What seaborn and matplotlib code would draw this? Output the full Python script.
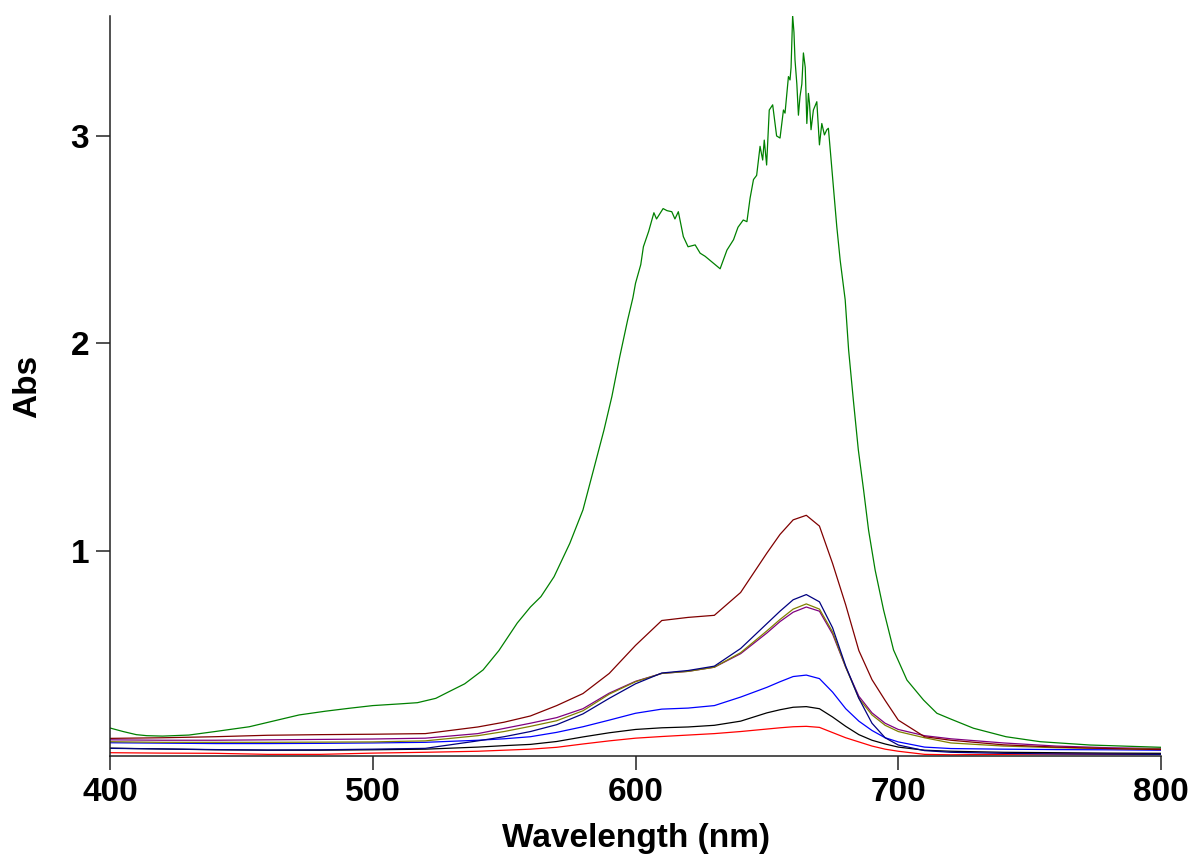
import numpy as np
import pandas as pd
import matplotlib
matplotlib.use("Agg")
import matplotlib.pyplot as plt
import seaborn as sns

# Wavelength grid (nm) shared by the smooth spectra
wavelength = [400, 420, 440, 460, 480, 500, 520, 540, 550, 560, 570, 580, 590,
              600, 610, 620, 630, 640, 650, 655, 660, 665, 670, 675, 680, 685,
              690, 695, 700, 710, 720, 740, 760, 780, 800]

abs_maroon = [0.097, 0.100, 0.105, 0.112, 0.115, 0.117, 0.120, 0.152, 0.175, 0.205,
              0.255, 0.313, 0.410, 0.545, 0.665, 0.680, 0.690, 0.800, 0.990, 1.080,
              1.150, 1.172, 1.120, 0.940, 0.740, 0.520, 0.380, 0.280, 0.185, 0.105,
              0.088, 0.066, 0.055, 0.048, 0.043]
abs_navy = [0.049, 0.046, 0.043, 0.041, 0.042, 0.045, 0.049, 0.085, 0.105, 0.130,
            0.163, 0.215, 0.290, 0.360, 0.412, 0.424, 0.445, 0.530, 0.650, 0.710,
            0.765, 0.790, 0.755, 0.630, 0.445, 0.290, 0.170, 0.100, 0.065, 0.038,
            0.030, 0.025, 0.022, 0.021, 0.020]
abs_olive = [0.081, 0.078, 0.078, 0.078, 0.079, 0.080, 0.085, 0.110, 0.130, 0.155,
             0.182, 0.230, 0.310, 0.370, 0.410, 0.420, 0.440, 0.510, 0.615, 0.670,
             0.720, 0.745, 0.720, 0.610, 0.440, 0.290, 0.210, 0.160, 0.130, 0.100,
             0.075, 0.060, 0.052, 0.048, 0.045]
abs_purple = [0.090, 0.088, 0.088, 0.090, 0.092, 0.094, 0.098, 0.120, 0.145, 0.170,
              0.197, 0.240, 0.315, 0.372, 0.410, 0.420, 0.440, 0.505, 0.605, 0.660,
              0.705, 0.730, 0.710, 0.600, 0.440, 0.300, 0.220, 0.170, 0.140, 0.110,
              0.095, 0.075, 0.060, 0.052, 0.048]
abs_blue = [0.076, 0.074, 0.072, 0.072, 0.073, 0.075, 0.078, 0.088, 0.095, 0.105,
            0.126, 0.153, 0.185, 0.218, 0.238, 0.243, 0.255, 0.296, 0.343, 0.370,
            0.395, 0.402, 0.385, 0.320, 0.240, 0.180, 0.135, 0.100, 0.080, 0.055,
            0.048, 0.045, 0.043, 0.042, 0.040]
abs_black = [0.050, 0.046, 0.042, 0.040, 0.040, 0.042, 0.045, 0.055, 0.062, 0.068,
             0.082, 0.104, 0.124, 0.140, 0.148, 0.152, 0.160, 0.180, 0.220, 0.235,
             0.247, 0.250, 0.240, 0.200, 0.155, 0.115, 0.088, 0.070, 0.055, 0.040,
             0.035, 0.030, 0.028, 0.026, 0.025]
abs_red = [0.028, 0.026, 0.025, 0.020, 0.020, 0.026, 0.030, 0.035, 0.040, 0.045,
           0.054, 0.070, 0.085, 0.098, 0.106, 0.113, 0.120, 0.130, 0.142, 0.148,
           0.153, 0.155, 0.150, 0.125, 0.100, 0.080, 0.060, 0.045, 0.035, 0.020,
           0.018, 0.020, 0.022, 0.021, 0.020]

# The concentrated sample is noisy near its maximum, so it has its own grid
wavelength_green = [400, 405, 410, 414, 420, 430, 440, 453, 462, 472, 482, 491, 500,
                    510, 517, 524, 529, 535, 542, 548, 555, 560, 564, 569, 575, 580,
                    584, 588, 591, 594, 597, 599, 600, 602, 603, 605, 607, 608, 610.5,
                    612, 613.8, 615, 616.3, 618.2, 620, 622.7, 624.6, 626.5, 628.4,
                    630.3, 632.2, 634.8, 637.3, 639, 641, 642.4, 643.6, 644.9, 646.1,
                    647.4, 648.4, 649, 649.9, 650.9, 652.2, 653.7, 655, 656.3, 656.9,
                    658.2, 658.8, 659.2, 659.8, 660.3, 660.7, 661.4, 662, 662.6, 663.3,
                    663.9, 664.6, 665.2, 665.8, 666.2, 666.8, 667.7, 669, 670, 670.9,
                    671.9, 672.8, 673.4, 674, 675.3, 676.6, 677.9, 679.8, 681.1, 682.9,
                    684.8, 686.8, 688.7, 691.2, 694.4, 698.2, 703.3, 709.6, 714.7, 720,
                    728.6, 741, 754, 773, 800]
abs_green = [0.147, 0.130, 0.115, 0.110, 0.108, 0.113, 0.130, 0.153, 0.180, 0.210,
             0.228, 0.242, 0.255, 0.263, 0.269, 0.290, 0.322, 0.360, 0.427, 0.520,
             0.653, 0.730, 0.780, 0.876, 1.037, 1.198, 1.390, 1.583, 1.744, 1.936,
             2.113, 2.220, 2.290, 2.380, 2.466, 2.540, 2.630, 2.600, 2.650, 2.640,
             2.635, 2.600, 2.635, 2.515, 2.466, 2.475, 2.435, 2.420, 2.400, 2.380,
             2.360, 2.450, 2.500, 2.560, 2.595, 2.587, 2.700, 2.790, 2.810, 2.950,
             2.884, 2.980, 2.860, 3.125, 3.150, 3.000, 2.990, 3.125, 3.110, 3.286,
             3.270, 3.330, 3.580, 3.500, 3.366, 3.250, 3.100, 3.190, 3.250, 3.400,
             3.330, 3.060, 3.205, 3.160, 3.030, 3.125, 3.165, 2.957, 3.060, 3.005,
             3.030, 3.037, 2.950, 2.756, 2.563, 2.400, 2.210, 1.969, 1.728, 1.487,
             1.294, 1.100, 0.908, 0.716, 0.523, 0.378, 0.282, 0.218, 0.190, 0.146,
             0.105, 0.081, 0.065, 0.054]

xticks = [400, 500, 600, 700, 800]
yticks = [1, 2, 3]

sns.set_style("ticks")
plt.rcParams["font.family"] = ["Liberation Sans", "DejaVu Sans"]
plt.rcParams["text.color"] = "black"
plt.rcParams["axes.labelcolor"] = "black"
plt.rcParams["xtick.color"] = "black"
plt.rcParams["ytick.color"] = "black"

fig = plt.figure(figsize=(11.93, 8.56), dpi=100)
ax = fig.add_axes([0.0922, 0.1168, 0.881, 0.8645])

spectra = [
    (abs_red, "#ff0000"),
    (abs_black, "#000000"),
    (abs_blue, "#0000ff"),
    (abs_purple, "#800080"),
    (abs_olive, "#808000"),
    (abs_navy, "#000080"),
    (abs_maroon, "#800000"),
]
for values, color in spectra:
    sns.lineplot(x=wavelength, y=values, color=color, linewidth=0.9, ax=ax,
                 sort=False, estimator=None)
sns.lineplot(x=wavelength_green, y=abs_green, color="#008000", linewidth=0.9,
             ax=ax, sort=False, estimator=None)

ax.set_xlim(400, 800)
ax.set_ylim(0.012, 3.578)
ax.set_xticks(xticks)
ax.set_yticks(yticks)
ax.set_xticklabels([str(t) for t in xticks], fontsize=24, fontweight="bold",
                   color="black")
ax.set_yticklabels([str(t) for t in yticks], fontsize=24, fontweight="bold",
                   color="black")
ax.tick_params(axis="both", direction="out", length=10, width=1.1, color="#222222",
               pad=5)
ax.set_xlabel("Wavelength (nm)", fontsize=24, fontweight="bold", labelpad=11,
              color="black")
ax.set_ylabel("Abs", fontsize=24, fontweight="bold", labelpad=20, color="black")

for side in ("top", "right"):
    ax.spines[side].set_visible(False)
for side in ("left", "bottom"):
    ax.spines[side].set_linewidth(1.1)
    ax.spines[side].set_color("#222222")

fig.savefig("out.png", dpi=100)
